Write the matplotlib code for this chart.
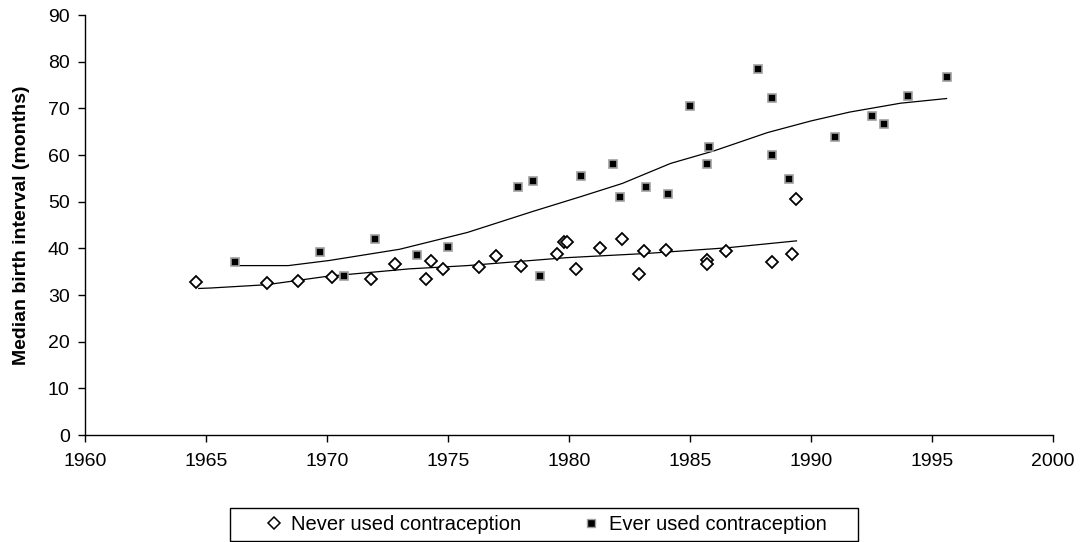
import matplotlib.pyplot as plt
from matplotlib.lines import Line2D
from matplotlib.patches import Rectangle

plt.rcParams['font.family'] = ['Liberation Sans', 'DejaVu Sans']

# never used contraception (diamonds)
never_year = [1964.6, 1967.5, 1968.8, 1970.2, 1971.8, 1972.8, 1974.1, 1974.3,
              1974.8, 1976.3, 1977.0, 1978.0, 1979.5, 1979.8, 1979.9, 1980.3,
              1981.3, 1982.2, 1982.9, 1983.1, 1984.0, 1985.7, 1985.7, 1986.5,
              1988.4, 1989.2, 1989.4]
never_val = [32.8, 32.5, 33.1, 33.9, 33.5, 36.6, 33.5, 37.3,
             35.6, 35.9, 38.4, 36.2, 38.7, 41.4, 41.4, 35.6,
             40.1, 41.9, 34.5, 39.4, 39.7, 37.6, 36.6, 39.4,
             37.0, 38.7, 50.5]

# ever used contraception (squares)
ever_year = [1966.2, 1969.7, 1970.7, 1972.0, 1973.7, 1975.0, 1977.9, 1978.5,
             1978.8, 1980.5, 1981.8, 1982.1, 1983.2, 1984.1, 1985.0, 1985.7,
             1985.8, 1987.8, 1988.4, 1988.4, 1989.1, 1991.0, 1992.5, 1993.0,
             1994.0, 1995.6]
ever_val = [37.1, 39.3, 34.0, 42.0, 38.6, 40.3, 53.1, 54.5,
            34.0, 55.6, 58.0, 51.1, 53.1, 51.7, 70.6, 58.0,
            61.8, 78.5, 72.3, 60.1, 54.9, 63.9, 68.4, 66.6,
            72.6, 76.8]

# smoothed trend lines
never_trend_x = [1964.7, 1965.2, 1967.5, 1970.0, 1973.4, 1975.8, 1979.9, 1983.2, 1986.5, 1989.4]
never_trend_y = [31.4, 31.5, 32.2, 34.0, 35.6, 36.3, 38.0, 38.9, 40.1, 41.6]
ever_trend_x = [1966.4, 1968.4, 1970.1, 1973.0, 1975.8, 1978.5, 1980.5, 1982.2,
                1984.2, 1986.0, 1988.2, 1990.0, 1991.6, 1993.7, 1995.6]
ever_trend_y = [36.3, 36.3, 37.4, 39.8, 43.4, 47.9, 51.1, 53.9,
                58.2, 60.9, 64.8, 67.3, 69.2, 71.1, 72.1]

W, H = 1085, 542
fig = plt.figure(figsize=(W / 100, H / 100), dpi=100)
ax = fig.add_axes([85/W, 1 - 435/H, 968/W, 420/H])

ax.plot(never_trend_x, never_trend_y, color='black', lw=0.9)
ax.plot(ever_trend_x, ever_trend_y, color='black', lw=0.9)
ax.plot(never_year, never_val, linestyle='none', marker='D', ms=6,
        mfc='white', mec='black', mew=1.3)
ax.plot(ever_year, ever_val, linestyle='none', marker='s', ms=6,
        mfc='black', mec='#a0a0a0', mew=1.2)

ax.set_xlim(1960, 2000)
ax.set_ylim(0, 90)
ax.set_xticks(range(1960, 2001, 5))
ax.set_yticks(range(0, 91, 10))
ax.tick_params(labelsize=14, length=5, width=1, direction='out')
ax.tick_params(axis='x', pad=8)
ax.tick_params(axis='y', pad=6)
ax.spines['top'].set_visible(False)
ax.spines['right'].set_visible(False)
ax.spines['left'].set_linewidth(1)
ax.spines['bottom'].set_linewidth(1)
ax.set_ylabel('Median birth interval (months)', fontsize=14, fontweight='bold')
ax.yaxis.set_label_coords(-0.057, 0.5)

# legend box
fig.patches.append(Rectangle((230/W, 1 - 541/H), 628/W, 33/H, transform=fig.transFigure,
                             fill=False, edgecolor='black', lw=1))
handles = [
    Line2D([], [], linestyle='none', marker='D', ms=6, mfc='white', mec='black', mew=1.1),
    Line2D([], [], linestyle='none', marker='s', ms=5.5, mfc='black', mec='#a0a0a0', mew=1),
]
fig.legend(handles, ['Never used contraception', 'Ever used contraception'],
           loc='center', bbox_to_anchor=(546/W, 1 - 524.5/H), ncol=2,
           fontsize=14.5, frameon=False, borderpad=0, borderaxespad=0,
           handlelength=0.8, handletextpad=0.45, columnspacing=3.1)

fig.savefig('out.png', dpi=100)
